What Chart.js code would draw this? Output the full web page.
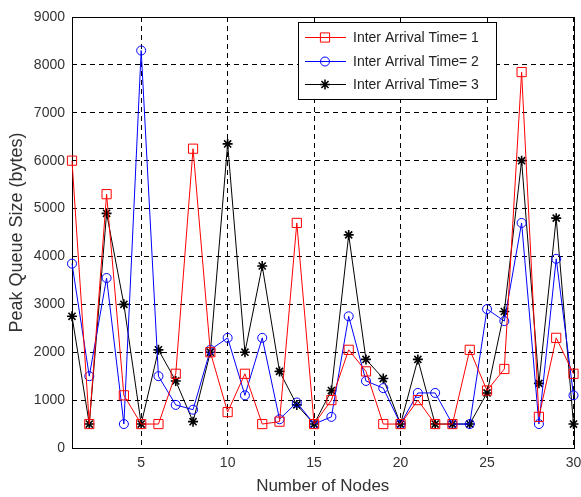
<!DOCTYPE html>
<html>
<head>
<meta charset="utf-8">
<script src="https://cdn.jsdelivr.net/npm/chart.js@4.4.0/dist/chart.umd.min.js"></script>
<style>
    html, body { margin: 0; padding: 0; background: #fff; }
    #wrap { width: 581px; height: 497px; }
</style>
</head>
<body>
<div id="wrap"><canvas id="queueChart" width="581" height="497"></canvas></div>
<script>
// -------------------------------
// Datos
// -------------------------------
const nodos = [1,2,3,4,5,6,7,8,9,10,11,12,13,14,15,16,17,18,19,20,21,22,23,24,25,26,27,28,29,30];

const llegada1 = [6000,500,5300,1100,500,500,1550,6250,2000,750,1550,500,550,4700,500,1000,2050,1600,500,500,1000,500,500,2050,1200,1650,7850,650,2300,1550];
const llegada2 = [3850,1500,3550,500,8300,1500,900,800,2050,2300,1100,2300,600,950,500,650,2750,1400,1250,500,1150,1150,500,500,2900,2650,4700,500,3950,1100];
const llegada3 = [2750,500,4900,3000,500,2050,1400,550,2000,6350,2000,3800,1600,900,500,1200,4450,1850,1450,500,1850,500,500,500,1150,2850,6000,1350,4800,500];

const etiquetas = ["Inter Arrival Time= 1", "Inter Arrival Time= 2", "Inter Arrival Time= 3"];
const xTicks = [5,10,15,20,25,30];
const yTicks = [0,1000,2000,3000,4000,5000,6000,7000,8000,9000];

const FUENTE = "'Liberation Sans', Arial, sans-serif";

function puntos(valores) {
    return valores.map((v, i) => ({ x: nodos[i], y: v }));
}

// -------------------------------
// Caja de ejes (estilo MATLAB)
// -------------------------------
const cajaEjes = {
    id: "cajaEjes",
    beforeDatasetsDraw(chart) {
        const { ctx, chartArea: a } = chart;
        ctx.save();
        ctx.strokeStyle = "#000";
        ctx.lineWidth = 1;
        ctx.setLineDash([]);
        ctx.strokeRect(Math.round(a.left) + 0.5, Math.round(a.top) + 0.5,
            Math.round(a.right - a.left), Math.round(a.bottom - a.top));
        ctx.restore();
    }
};

// -------------------------------
// Leyenda dentro del area
// -------------------------------
const leyendaInterna = {
    id: "leyendaInterna",
    afterDatasetsDraw(chart) {
        const { ctx, chartArea: a } = chart;
        const w = 198, h = 77;
        const x0 = Math.round(a.left + 226);
        const y0 = Math.round(a.top + 5);

        ctx.save();
        ctx.fillStyle = "#fff";
        ctx.fillRect(x0, y0, w, h);
        ctx.strokeStyle = "#000";
        ctx.lineWidth = 1;
        ctx.setLineDash([]);
        ctx.strokeRect(x0 + 0.5, y0 + 0.5, w, h);

        chart.data.datasets.forEach((ds, i) => {
            const y = Math.round(y0 + 15 + i * 23.5) + 0.5;
            ctx.strokeStyle = ds.borderColor;
            ctx.lineWidth = 1;
            ctx.beginPath();
            ctx.moveTo(x0 + 7, y);
            ctx.lineTo(x0 + 48, y);
            ctx.stroke();
            ctx.fillStyle = "rgba(0,0,0,0)";
            ctx.lineWidth = ds.pointBorderWidth;
            Chart.helpers.drawPoint(ctx, {
                pointStyle: ds.pointStyle,
                radius: ds.pointRadius,
                borderWidth: ds.pointBorderWidth
            }, x0 + 27, y);
            ctx.fillStyle = "#222";
            ctx.font = "14px " + FUENTE;
            ctx.textBaseline = "middle";
            ctx.fillText(etiquetas[i], x0 + 55, y + 1);
        });
        ctx.restore();
    }
};

// -------------------------------
// Grafico
// -------------------------------
function dibujarGrafico() {
    const ctx = document.getElementById("queueChart").getContext("2d");

    const estilos = [
        { color: "#ff0000", punto: "rect", radio: 6.5 },
        { color: "#0000ff", punto: "circle", radio: 4.5 },
        { color: "#000000", punto: "star", radio: 5 }
    ];
    const series = [llegada1, llegada2, llegada3];

    new Chart(ctx, {
        type: "line",
        data: {
            datasets: series.map((s, i) => ({
                label: etiquetas[i],
                data: puntos(s),
                borderColor: estilos[i].color,
                backgroundColor: "rgba(0,0,0,0)",
                borderWidth: 1,
                pointStyle: estilos[i].punto,
                pointRadius: estilos[i].radio,
                pointBorderWidth: i === 2 ? 1.6 : 1,
                pointBorderColor: estilos[i].color,
                pointBackgroundColor: "rgba(0,0,0,0)",
                tension: 0,
                clip: false
            }))
        },
        options: {
            responsive: false,
            animation: false,
            layout: { padding: { left: 6, right: 0, top: 17, bottom: 0 } },
            scales: {
                x: {
                    type: "linear",
                    min: 1,
                    max: 30,
                    afterBuildTicks: scale => {
                        scale.ticks = xTicks.map(v => ({ value: v }));
                    },
                    afterFit: scale => {
                        scale.height = 49;
                        scale.paddingRight = 7;
                    },
                    grid: { color: "#000", lineWidth: 1, drawTicks: false },
                    border: { display: false, dash: [5, 4] },
                    ticks: { color: "#333", font: { family: FUENTE, size: 14 }, padding: 7, maxRotation: 0 },
                    title: {
                        display: true,
                        text: "Number of Nodes",
                        color: "#333",
                        font: { family: FUENTE, size: 17 },
                        padding: { top: 0, bottom: 0 }
                    }
                },
                y: {
                    min: 0,
                    max: 9000,
                    afterBuildTicks: scale => {
                        scale.ticks = yTicks.map(v => ({ value: v }));
                    },
                    afterFit: scale => { scale.width = 66; },
                    grid: { color: "#000", lineWidth: 1, drawTicks: false },
                    border: { display: false, dash: [5, 4] },
                    ticks: {
                        color: "#333",
                        font: { family: FUENTE, size: 14 },
                        padding: 7,
                        callback: v => String(v)
                    },
                    title: {
                        display: true,
                        text: "Peak Queue Size (bytes)",
                        color: "#333",
                        font: { family: FUENTE, size: 18 },
                        padding: { top: 0, bottom: 4 }
                    }
                }
            },
            plugins: {
                legend: { display: false },
                tooltip: { enabled: false }
            }
        },
        plugins: [cajaEjes, leyendaInterna]
    });
}

dibujarGrafico();
</script>
</body>
</html>
